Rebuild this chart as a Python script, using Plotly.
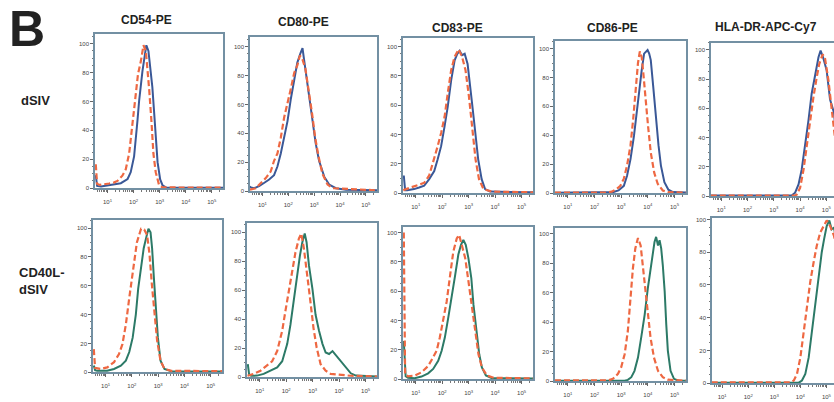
import numpy as np
import plotly.graph_objects as go

# ---------------- data (x = log10 fluorescence, y = % of max) ----------------
markers = ["CD54-PE", "CD80-PE", "CD83-PE", "CD86-PE", "HLA-DR-APC-Cy7"]
row_labels = ["dSIV", "CD40L-<br>dSIV"]
x_tick_vals = [10, 100, 1000, 10000, 100000]
x_tick_text = ["10<sup>1</sup>", "10<sup>2</sup>", "10<sup>3</sup>", "10<sup>4</sup>", "10<sup>5</sup>"]
y_tick_vals = [0, 20, 40, 60, 80, 100]

# row 1: control (red dashed) vs dSIV (blue)
r1_cd54_ctrl_x = [0.55, 0.60, 0.70, 0.87, 1.06, 1.26, 1.38, 1.57, 1.70, 1.83, 1.92, 2.02, 2.09, 2.17, 2.28, 2.38, 2.47, 2.53, 2.60, 2.69, 2.76, 2.85, 2.98, 3.11, 4.00, 5.45]
r1_cd54_ctrl_y = [16.5, 3, 2.2, 2.5, 3.2, 4, 5, 8.6, 13, 24, 38, 56, 67, 79, 88, 99, 95, 83, 68, 45, 24, 11, 2, 0.5, 0.3, 0.3]
r1_cd54_dsiv_x = [0.55, 0.60, 0.75, 1.00, 1.30, 1.51, 1.77, 1.89, 2.02, 2.09, 2.15, 2.21, 2.28, 2.34, 2.43, 2.49, 2.57, 2.63, 2.72, 2.79, 2.85, 2.92, 3.02, 3.11, 3.24, 4.00, 5.45]
r1_cd54_dsiv_y = [9, 1.5, 1.2, 1.8, 2.5, 3.4, 6.3, 11, 22, 34, 47, 60, 72, 81, 92, 99, 95, 86, 70, 52, 34, 18, 6, 2, 0.5, 0.3, 0.3]

r1_cd80_ctrl_x = [0.52, 0.74, 0.94, 1.13, 1.32, 1.45, 1.58, 1.71, 1.84, 1.97, 2.10, 2.23, 2.35, 2.45, 2.55, 2.66, 2.78, 2.91, 3.04, 3.17, 3.32, 3.52, 3.71, 4.23, 4.87, 5.45]
r1_cd80_ctrl_y = [1, 2, 5.6, 9, 13.5, 21, 26, 37, 51, 60, 71, 82, 87, 94, 91, 85, 71, 55, 37, 24, 12, 4.5, 2, 1.5, 1, 0.5]
r1_cd80_dsiv_x = [0.52, 0.55, 0.68, 0.87, 1.06, 1.26, 1.45, 1.58, 1.71, 1.84, 1.97, 2.10, 2.23, 2.35, 2.48, 2.55, 2.61, 2.70, 2.81, 2.94, 3.06, 3.19, 3.39, 3.58, 3.84, 4.23, 4.87, 5.45]
r1_cd80_dsiv_y = [3.4, 2.5, 2, 3.4, 5.6, 8, 11, 17, 26, 37, 48.5, 64, 78, 89, 96, 99, 91, 80, 64, 48.5, 33, 21, 10, 4.5, 2, 1, 0.8, 0.5]

r1_cd83_ctrl_x = [0.53, 0.81, 1.06, 1.32, 1.51, 1.70, 1.83, 1.96, 2.09, 2.21, 2.34, 2.47, 2.62, 2.75, 2.88, 3.01, 3.13, 3.26, 3.39, 3.56, 3.88, 5.45]
r1_cd83_ctrl_y = [2, 3.8, 5, 7, 12, 23, 32, 41, 52, 68, 84, 93, 98, 93, 84, 66, 45.5, 23, 9.5, 2.7, 1, 0.5]
r1_cd83_dsiv_x = [0.55, 0.60, 0.68, 0.94, 1.13, 1.32, 1.51, 1.70, 1.83, 1.96, 2.09, 2.21, 2.34, 2.47, 2.57, 2.66, 2.75, 2.85, 2.96, 3.04, 3.13, 3.24, 3.36, 3.49, 3.62, 3.81, 5.45]
r1_cd83_dsiv_y = [12, 2, 2, 2.7, 3.8, 5, 9.5, 15, 23, 32, 45.5, 59, 77, 90.5, 95, 97, 94, 95, 88, 77, 61, 43, 23, 9.5, 2.7, 1, 0.5]

r1_cd86_ctrl_x = [0.52, 2.40, 2.65, 2.84, 2.97, 3.10, 3.22, 3.35, 3.45, 3.54, 3.63, 3.70, 3.77, 3.83, 3.92, 4.01, 4.11, 4.24, 4.37, 4.56, 4.75, 5.45]
r1_cd86_ctrl_y = [0.3, 0.3, 1, 3, 5, 10, 19, 33, 51, 71, 90, 98, 94, 83, 67, 46, 28, 14, 6.4, 1.8, 0.7, 0.3]
r1_cd86_dsiv_x = [0.52, 2.46, 2.71, 2.90, 3.10, 3.22, 3.35, 3.48, 3.58, 3.67, 3.77, 3.86, 3.92, 3.99, 4.05, 4.11, 4.20, 4.30, 4.40, 4.49, 4.62, 4.77, 4.94, 5.45]
r1_cd86_dsiv_y = [0.3, 0.3, 0.7, 1.8, 5, 12, 23.5, 39.5, 55.5, 71, 85, 96.5, 97.7, 99, 96.5, 92, 74, 51, 33, 19, 7.5, 2.3, 0.7, 0.3]

r1_hla_ctrl_x = [0.6, 1.9, 2.0, 2.3, 3.80, 3.87, 4.00, 4.13, 4.25, 4.38, 4.51, 4.63, 4.73, 4.86, 4.95, 5.08, 5.20, 5.29, 5.45]
r1_hla_ctrl_y = [0.3, 0.3, 0.8, 0.3, 0.3, 1, 5.6, 18, 34, 52, 68, 81, 90.5, 97, 94, 79, 59, 45, 20]
r1_hla_dsiv_x = [0.6, 3.68, 3.81, 3.94, 4.06, 4.19, 4.32, 4.44, 4.57, 4.70, 4.78, 4.89, 5.01, 5.14, 5.29, 5.45]
r1_hla_dsiv_y = [0.3, 0.3, 2.3, 8, 18, 34, 52, 70, 84, 95, 99.5, 94, 86, 66, 57, 25]

# row 2: control (red dashed) vs CD40L-dSIV (green)
r2_cd54_ctrl_x = [0.55, 0.60, 0.81, 1.06, 1.32, 1.51, 1.64, 1.77, 1.90, 2.03, 2.09, 2.19, 2.35, 2.47, 2.58, 2.67, 2.76, 2.86, 2.96, 3.09, 3.24, 3.50, 5.45]
r2_cd54_ctrl_y = [16, 3, 2.3, 3.4, 7, 12.6, 19.5, 33, 51.5, 70, 79, 90, 99.5, 99, 95, 82, 61, 40, 22, 8, 2.3, 1, 0.8]
r2_cd54_cd40l_x = [0.55, 0.60, 0.68, 1.06, 1.32, 1.58, 1.77, 1.90, 2.03, 2.15, 2.24, 2.35, 2.45, 2.54, 2.63, 2.71, 2.77, 2.83, 2.90, 2.99, 3.09, 3.24, 3.50, 5.45]
r2_cd54_cd40l_y = [4.6, 1.5, 1, 1.1, 2.3, 4.6, 8, 14, 24, 40, 58, 74, 86, 93, 99.5, 97, 86, 67.5, 47, 24, 8, 2.3, 0.7, 0.5]

r2_cd80_ctrl_x = [0.54, 0.77, 1.03, 1.28, 1.47, 1.66, 1.85, 1.97, 2.10, 2.23, 2.35, 2.48, 2.57, 2.67, 2.77, 2.90, 3.03, 3.15, 3.30, 3.49, 3.68, 4.06, 4.44, 5.45]
r2_cd80_ctrl_y = [1, 2.3, 4.5, 8, 11, 18, 32, 45.5, 59, 75, 86, 95.5, 99, 88.6, 75, 54.5, 34, 20.5, 9, 4.5, 2.3, 1.6, 1, 0.5]
r2_cd80_cd40l_x = [0.55, 0.60, 0.67, 0.90, 1.15, 1.41, 1.66, 1.85, 2.04, 2.16, 2.29, 2.42, 2.52, 2.61, 2.70, 2.77, 2.86, 2.99, 3.11, 3.24, 3.37, 3.49, 3.62, 3.75, 3.84, 3.96, 4.13, 4.25, 4.44, 4.63, 5.45]
r2_cd80_cd40l_y = [9, 2, 1, 1.1, 2.3, 4.5, 6.8, 11, 23, 36, 54.5, 70.5, 84, 93, 99, 93, 77, 61, 43, 32, 23, 17, 16, 18, 16, 13.6, 10, 6.8, 2.7, 1.1, 0.5]

r2_cd83_ctrl_x = [0.55, 0.60, 0.71, 0.96, 1.22, 1.47, 1.66, 1.79, 1.91, 2.04, 2.17, 2.30, 2.42, 2.55, 2.64, 2.74, 2.87, 2.99, 3.12, 3.25, 3.37, 3.50, 3.69, 3.95, 5.45]
r2_cd83_ctrl_y = [100, 3, 2, 2.5, 4.7, 9, 15, 19.4, 28.4, 40, 53, 71, 87, 96, 98.4, 91.6, 82.6, 67, 49, 31, 17, 8, 2.5, 1, 0.5]
r2_cd83_cd40l_x = [0.55, 0.62, 0.71, 0.96, 1.22, 1.47, 1.66, 1.85, 1.98, 2.10, 2.23, 2.36, 2.49, 2.61, 2.71, 2.80, 2.89, 2.99, 3.10, 3.18, 3.29, 3.40, 3.50, 3.65, 3.88, 5.45]
r2_cd83_cd40l_y = [26, 2, 1, 0.7, 1.8, 4, 7, 12.6, 19.4, 28.4, 42, 55.5, 71, 85, 91.6, 95, 91.6, 82.6, 69, 51, 33, 17, 8, 2.5, 0.7, 0.5]

r2_cd86_ctrl_x = [0.52, 2.50, 2.69, 2.88, 3.00, 3.13, 3.25, 3.35, 3.44, 3.53, 3.63, 3.73, 3.81, 3.90, 4.00, 4.10, 4.23, 4.38, 4.56, 4.75, 5.45]
r2_cd86_ctrl_y = [0.5, 0.5, 1.6, 5, 9.4, 18.3, 34, 56, 76.5, 90, 97, 92, 78.7, 63, 45, 29.5, 16, 7, 2.7, 1, 0.3]
r2_cd86_cd40l_x = [0.52, 3.13, 3.25, 3.38, 3.50, 3.63, 3.75, 3.88, 4.00, 4.10, 4.19, 4.25, 4.31, 4.38, 4.44, 4.50, 4.56, 4.63, 4.69, 4.75, 4.85, 4.98, 5.13, 5.45]
r2_cd86_cd40l_y = [0.3, 0.3, 0.9, 2.7, 7, 16, 29.5, 45, 63, 76.5, 85.5, 94.4, 97.8, 92, 95.5, 90, 78.7, 61, 38.5, 20.6, 7, 1.6, 0.5, 0.3]

r2_hla_ctrl_x = [0.6, 3.62, 3.75, 3.87, 4.00, 4.13, 4.25, 4.38, 4.51, 4.63, 4.76, 4.89, 5.01, 5.14, 5.29, 5.45]
r2_hla_ctrl_y = [0.5, 0.5, 1.6, 5.6, 15.7, 32, 48, 62, 74, 84, 92, 96, 99.4, 96, 90, 75]
r2_hla_cd40l_x = [0.6, 3.94, 4.06, 4.19, 4.32, 4.44, 4.57, 4.70, 4.82, 4.91, 5.01, 5.11, 5.20, 5.29, 5.45]
r2_hla_cd40l_y = [0.3, 0.3, 1.6, 5.6, 15.7, 32, 48, 64, 80, 88, 96, 99.4, 94, 95, 80]

# ---------------- layout / styling ----------------
W, H = 834, 402
FRAME = "#7390a3"
RED = "#ee6842"
BLUE = "#3a5897"
GREEN = "#2c7a67"
TXT = "#222222"
FONT = "Liberation Sans, Arial, sans-serif"

# pixel boxes: (left, right, top, zero-line, y max)
boxes = [
    [(95, 223, 33, 189, 107), (250, 377, 36, 192, 107), (403, 533, 37, 194, 106),
     (555, 686, 40, 194, 105.5), (711, 834, 42, 197, 105)],
    [(93, 222, 221, 375, 105.7), (247, 377, 224, 380, 106.4), (403, 533, 228, 382, 104),
     (555, 686, 229, 384, 104), (712, 834, 219, 386, 101)],
]

series = [
    [(r1_cd54_ctrl_x, r1_cd54_ctrl_y, r1_cd54_dsiv_x, r1_cd54_dsiv_y),
     (r1_cd80_ctrl_x, r1_cd80_ctrl_y, r1_cd80_dsiv_x, r1_cd80_dsiv_y),
     (r1_cd83_ctrl_x, r1_cd83_ctrl_y, r1_cd83_dsiv_x, r1_cd83_dsiv_y),
     (r1_cd86_ctrl_x, r1_cd86_ctrl_y, r1_cd86_dsiv_x, r1_cd86_dsiv_y),
     (r1_hla_ctrl_x, r1_hla_ctrl_y, r1_hla_dsiv_x, r1_hla_dsiv_y)],
    [(r2_cd54_ctrl_x, r2_cd54_ctrl_y, r2_cd54_cd40l_x, r2_cd54_cd40l_y),
     (r2_cd80_ctrl_x, r2_cd80_ctrl_y, r2_cd80_cd40l_x, r2_cd80_cd40l_y),
     (r2_cd83_ctrl_x, r2_cd83_ctrl_y, r2_cd83_cd40l_x, r2_cd83_cd40l_y),
     (r2_cd86_ctrl_x, r2_cd86_ctrl_y, r2_cd86_cd40l_x, r2_cd86_cd40l_y),
     (r2_hla_ctrl_x, r2_hla_ctrl_y, r2_hla_cd40l_x, r2_hla_cd40l_y)],
]

fig = go.Figure()
layout = {}
n = 0
for r in range(2):
    solid_col = BLUE if r == 0 else GREEN
    for c in range(5):
        n += 1
        sfx = "" if n == 1 else str(n)
        x0, x1, top, zero, ymax = boxes[r][c]
        last = (c == 4)
        xr = [0.61, 5.29] if last else [0.52, 5.43]
        cx, cy, sx, sy = series[r][c]
        fig.add_trace(go.Scatter(
            x=np.power(10.0, sx), y=sy, mode="lines",
            line=dict(color=solid_col, width=2), xaxis="x" + sfx, yaxis="y" + sfx,
            showlegend=False, hoverinfo="skip"))
        fig.add_trace(go.Scatter(
            x=np.power(10.0, cx), y=cy, mode="lines",
            line=dict(color=RED, width=2.2, dash="6px,3px"), xaxis="x" + sfx, yaxis="y" + sfx,
            showlegend=False, hoverinfo="skip"))
        layout["xaxis" + sfx] = dict(
            type="log", range=xr, domain=[x0 / W, x1 / W], anchor="y" + sfx,
            showline=True, linecolor=FRAME, linewidth=1.5, mirror=True,
            ticks="outside", ticklen=3, tickwidth=1, tickcolor="#666",
            tickvals=x_tick_vals, ticktext=x_tick_text, ticklabelstandoff=4,
            tickfont=dict(size=6, color="#444", family=FONT),
            showgrid=False, zeroline=False,
            minor=dict(ticks="outside", ticklen=2, tickwidth=0.8, tickcolor="#777", dtick="D1", showgrid=False),
        )
        layout["yaxis" + sfx] = dict(
            range=[0, ymax], domain=[1 - zero / H, 1 - top / H], anchor="x" + sfx,
            showline=True, linecolor=FRAME, linewidth=1.5, mirror=not last,
            ticks="outside", ticklen=3, tickwidth=1, tickcolor="#666",
            tickvals=y_tick_vals, tickfont=dict(size=6, color="#444", family=FONT),
            showgrid=False, zeroline=False,
            minor=dict(ticks="outside", ticklen=1.5, tickwidth=0.8, tickcolor="#777", dtick=5, showgrid=False),
        )

annotations = []
def px_ann(text, x, y, size, xanchor="center", align="center"):
    annotations.append(dict(
        text=text, x=x / W, y=1 - y / H, xref="paper", yref="paper",
        xanchor=xanchor, yanchor="middle", showarrow=False, align=align,
        font=dict(size=size, color=TXT, family=FONT)))

px_ann("<b>B</b>", 27, 28, 50)
title_pos = [(146, 19), (303, 21), (457, 27), (612, 27), (766, 26)]
for name, (tx, ty) in zip(markers, title_pos):
    px_ann("<b>" + name + "</b>", tx, ty, 12)
px_ann("<b>" + row_labels[0] + "</b>", 19, 100, 13, xanchor="left", align="left")
px_ann("<b>" + row_labels[1] + "</b>", 17, 283, 13, xanchor="left", align="left")

fig.update_layout(
    width=W, height=H, margin=dict(l=0, r=0, t=0, b=0),
    paper_bgcolor="white", plot_bgcolor="white",
    annotations=annotations, **layout)

fig.write_html("out.html", config={"displayModeBar": False},
               post_script="document.body.style.margin='0';document.body.style.overflow='hidden';")
